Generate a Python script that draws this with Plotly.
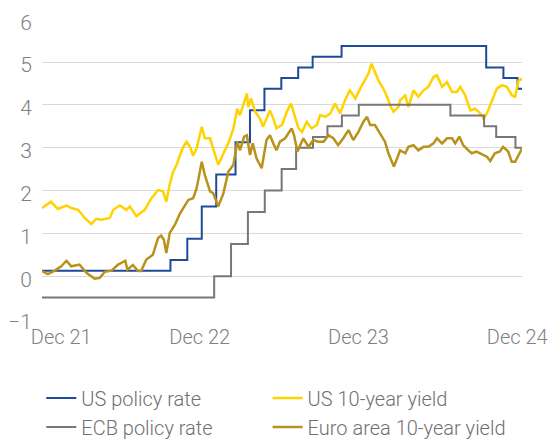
import plotly.graph_objects as go

# ---------------- data ----------------
us_policy_dates = ["2021-03-08", "2022-03-16", "2022-05-04", "2022-06-15", "2022-07-27",
                   "2022-09-21", "2022-11-02", "2022-12-14", "2023-02-01", "2023-03-22",
                   "2023-05-03", "2023-07-26", "2024-09-18", "2024-11-07", "2024-12-18",
                   "2024-12-31"]
us_policy_vals = [0.125, 0.375, 0.875, 1.625, 2.375, 3.125, 3.875, 4.375, 4.625, 4.875,
                  5.125, 5.375, 4.875, 4.625, 4.375, 4.375]

ecb_policy_dates = ["2021-03-08", "2022-07-21", "2022-09-08", "2022-10-27", "2022-12-15",
                    "2023-02-02", "2023-03-16", "2023-05-04", "2023-06-15", "2023-07-27",
                    "2023-09-14", "2024-06-06", "2024-09-12", "2024-10-17", "2024-12-12",
                    "2024-12-31"]
ecb_policy_vals = [-0.5, 0.0, 0.75, 1.5, 2.0, 2.5, 3.0, 3.25, 3.5, 3.75, 4.0, 3.75, 3.5,
                   3.25, 3.0, 3.0]

us10_dates = ["2021-03-08", "2021-04-03", "2021-04-23", "2021-05-18", "2021-06-01",
              "2021-06-21", "2021-07-10", "2021-07-29", "2021-08-13", "2021-08-27",
              "2021-09-21", "2021-10-01", "2021-10-20", "2021-11-08", "2021-11-18",
              "2021-12-07", "2021-12-31", "2022-01-20", "2022-02-08", "2022-02-22",
              "2022-03-04", "2022-03-14", "2022-03-24", "2022-04-03", "2022-04-13",
              "2022-04-22", "2022-05-02", "2022-05-12", "2022-05-21", "2022-05-31",
              "2022-06-15", "2022-06-24", "2022-07-09", "2022-07-23", "2022-08-02",
              "2022-08-17", "2022-08-31", "2022-09-15", "2022-09-26", "2022-10-04",
              "2022-10-18", "2022-10-24", "2022-10-28", "2022-11-05", "2022-11-17",
              "2022-12-01", "2022-12-10", "2022-12-20", "2022-12-30", "2023-01-09",
              "2023-01-18", "2023-02-03", "2023-02-17", "2023-03-01", "2023-03-13",
              "2023-03-23", "2023-04-02", "2023-04-16", "2023-04-30", "2023-05-15",
              "2023-05-25", "2023-06-09", "2023-06-23", "2023-07-07", "2023-07-22",
              "2023-08-05", "2023-08-19", "2023-09-04", "2023-09-18", "2023-10-03",
              "2023-10-12", "2023-10-21", "2023-10-31", "2023-11-10", "2023-11-24",
              "2023-12-05", "2023-12-14", "2023-12-24", "2024-01-07", "2024-01-12",
              "2024-01-27", "2024-02-05", "2024-02-20", "2024-03-05", "2024-03-20",
              "2024-04-03", "2024-04-18", "2024-04-28", "2024-05-13", "2024-05-27",
              "2024-06-11", "2024-06-25", "2024-07-05", "2024-07-19", "2024-08-03",
              "2024-08-17", "2024-09-01", "2024-09-10", "2024-09-20", "2024-10-05",
              "2024-10-19", "2024-11-03", "2024-11-17", "2024-12-02", "2024-12-11",
              "2024-12-21", "2024-12-31"]
us10_vals = [1.59, 1.74, 1.57, 1.65, 1.59, 1.55, 1.36, 1.22, 1.34, 1.32,
             1.36, 1.55, 1.65, 1.55, 1.63, 1.40, 1.55, 1.82, 2.01, 1.98,
             1.74, 2.15, 2.44, 2.60, 2.83, 3.02, 3.14, 3.02, 2.81, 2.98,
             3.49, 3.22, 3.22, 2.83, 2.60, 2.87, 3.10, 3.45, 3.91, 3.76,
             4.15, 4.26, 3.95, 4.15, 3.84, 3.68, 3.49, 3.68, 3.87, 3.68,
             3.45, 3.53, 3.84, 4.03, 3.68, 3.45, 3.37, 3.60, 3.45, 3.53,
             3.76, 3.72, 3.80, 4.03, 3.80, 4.11, 4.34, 4.15, 4.38, 4.61,
             4.73, 4.96, 4.77, 4.57, 4.38, 4.19, 3.99, 3.84, 3.95, 4.11,
             4.22, 3.95, 4.34, 4.19, 4.34, 4.42, 4.65, 4.69, 4.42, 4.53,
             4.30, 4.30, 4.42, 4.22, 3.87, 3.91, 3.80, 3.68, 3.80, 4.11,
             4.38, 4.46, 4.42, 4.22, 4.19, 4.57, 4.61]

ea10_dates = ["2021-03-08", "2021-03-25", "2021-04-14", "2021-05-03", "2021-05-18",
              "2021-06-01", "2021-06-25", "2021-07-15", "2021-08-08", "2021-08-23",
              "2021-09-06", "2021-09-26", "2021-10-15", "2021-10-29", "2021-11-05",
              "2021-11-11", "2021-11-27", "2021-12-12", "2021-12-21", "2022-01-05",
              "2022-01-24", "2022-02-08", "2022-02-17", "2022-02-25", "2022-03-04",
              "2022-03-14", "2022-03-29", "2022-04-13", "2022-04-27", "2022-05-07",
              "2022-05-21", "2022-05-31", "2022-06-15", "2022-06-24", "2022-07-09",
              "2022-07-18", "2022-08-02", "2022-08-17", "2022-08-31", "2022-09-15",
              "2022-09-26", "2022-10-04", "2022-10-16", "2022-10-24", "2022-11-02",
              "2022-11-10", "2022-11-21", "2022-12-06", "2022-12-20", "2022-12-30",
              "2023-01-11", "2023-01-18", "2023-01-28", "2023-02-12", "2023-03-03",
              "2023-03-10", "2023-03-20", "2023-03-28", "2023-04-06", "2023-04-21",
              "2023-05-05", "2023-05-19", "2023-06-04", "2023-06-18", "2023-07-02",
              "2023-07-16", "2023-07-31", "2023-08-15", "2023-08-29", "2023-09-13",
              "2023-09-27", "2023-10-08", "2023-10-17", "2023-10-31", "2023-11-15",
              "2023-11-29", "2023-12-09", "2023-12-18", "2023-12-25", "2024-01-07",
              "2024-01-12", "2024-01-27", "2024-02-05", "2024-02-20", "2024-03-05",
              "2024-03-20", "2024-04-03", "2024-04-18", "2024-04-28", "2024-05-13",
              "2024-05-27", "2024-06-11", "2024-06-20", "2024-07-02", "2024-07-13",
              "2024-07-28", "2024-08-07", "2024-08-21", "2024-09-05", "2024-09-20",
              "2024-09-30", "2024-10-13", "2024-10-28", "2024-11-06", "2024-11-21",
              "2024-12-01", "2024-12-11", "2024-12-21", "2024-12-31"]
ea10_vals = [0.12, 0.05, 0.13, 0.23, 0.36, 0.23, 0.27, 0.08, -0.06, -0.04,
             0.10, 0.13, 0.27, 0.33, 0.36, 0.15, 0.26, 0.12, 0.12, 0.39,
             0.50, 0.89, 0.95, 0.85, 0.54, 1.01, 1.20, 1.47, 1.67, 1.78,
             1.82, 2.05, 2.67, 2.36, 1.98, 1.94, 1.63, 1.94, 2.44, 2.60,
             3.14, 2.94, 3.26, 3.29, 2.83, 3.10, 2.75, 2.52, 3.18, 3.29,
             3.06, 2.94, 3.14, 3.22, 3.45, 3.29, 2.91, 3.06, 3.22, 3.02,
             3.18, 3.14, 3.14, 3.29, 3.22, 3.06, 3.22, 3.41, 3.18, 3.37,
             3.60, 3.72, 3.53, 3.53, 3.33, 3.14, 2.87, 2.67, 2.56, 2.83,
             2.94, 2.87, 3.02, 3.06, 2.94, 3.02, 3.02, 3.10, 3.22, 3.10,
             3.22, 3.22, 3.10, 3.26, 3.06, 2.94, 2.87, 2.91, 2.84, 2.79,
             2.69, 2.87, 2.91, 3.02, 2.91, 2.67, 2.67, 2.83, 2.98]

x_tick_dates = ["2021-05-03", "2022-06-09", "2023-09-13", "2024-12-17"]
x_tick_labels = ["Dec 21", "Dec 22", "Dec 23", "Dec 24"]
y_ticks = [-1, 0, 1, 2, 3, 4, 5, 6]

# ---------------- figure ----------------
FONT = "Roboto"
fig = go.Figure()
fig.add_trace(go.Scatter(x=us_policy_dates, y=us_policy_vals, name="US policy rate",
                         mode="lines", legend="legend",
                         line=dict(color="#1f4a9b", width=2, shape="hv")))
fig.add_trace(go.Scatter(x=us10_dates, y=us10_vals, name="US 10-year yield",
                         mode="lines", legend="legend2",
                         line=dict(color="#ffd200", width=2.5)))
fig.add_trace(go.Scatter(x=ecb_policy_dates, y=ecb_policy_vals, name="ECB policy rate",
                         mode="lines", legend="legend",
                         line=dict(color="#777777", width=2, shape="hv")))
fig.add_trace(go.Scatter(x=ea10_dates, y=ea10_vals, name="Euro area 10-year yield",
                         mode="lines", legend="legend2",
                         line=dict(color="#b8921b", width=2.5)))

legend_font = dict(family=FONT, size=20, color="#707070", weight=300)
fig.update_layout(
    width=550, height=434,
    margin=dict(l=34, r=36, t=11, b=123, autoexpand=False),
    paper_bgcolor="white", plot_bgcolor="white",
    font=dict(family=FONT, color="#808080", size=20, weight=300),
    showlegend=True,
    legend=dict(orientation="v", x=-0.0015, xanchor="left", y=-0.198, yanchor="top",
                font=legend_font, bgcolor="rgba(0,0,0,0)", tracegroupgap=0),
    legend2=dict(orientation="v", x=0.470, xanchor="left", y=-0.198, yanchor="top",
                 font=legend_font, bgcolor="rgba(0,0,0,0)", tracegroupgap=0),
    xaxis=dict(range=["2021-03-08", "2024-12-31"], tickmode="array",
               tickvals=x_tick_dates, ticktext=x_tick_labels, showgrid=False,
               showline=False, zeroline=False, ticks="", automargin=False,
               ticklabelstandoff=4, ticklabeloverflow="allow",
               tickfont=dict(family=FONT, size=20, color="#808080", weight=300)),
    yaxis=dict(range=[-1, 6.005], tickmode="array", tickvals=y_ticks,
               showgrid=True, gridcolor="#d9d9d9", gridwidth=1, zeroline=False,
               showline=False, ticks="", ticklabelstandoff=9, ticklabelshift=3,
               automargin=False, ticklabeloverflow="allow",
               tickfont=dict(family=FONT, size=21, color="#808080", weight=300)),
)

fig.write_html("out.html")
